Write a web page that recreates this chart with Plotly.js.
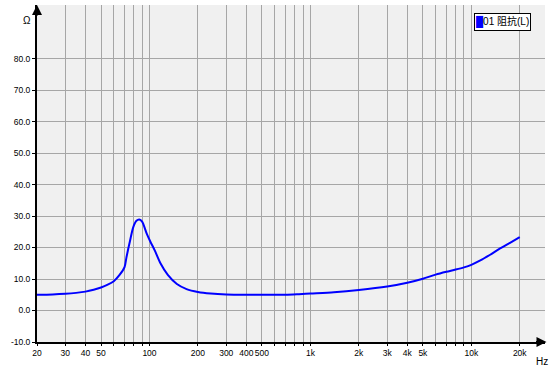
<!DOCTYPE html>
<html>
<head>
<meta charset="utf-8">
<script src="https://cdn.plot.ly/plotly-3.0.1.min.js"></script>
<style>html,body{margin:0;padding:0;background:#fff}#chart{width:554px;height:370px}</style>
</head>
<body>
<div id="chart"></div>
<script>
// Impedance curve (Hz, Ω)
var freqHz = [20, 25, 30, 35, 40, 45, 50, 55, 60, 65, 70, 72, 75.6, 79.3, 83, 86.5, 90, 96, 101, 108, 117, 130, 148, 170, 200, 240, 300, 400, 500, 700, 850, 1000, 1400, 2000, 3000, 4000, 5000, 6000, 7000, 8000, 9000, 10000, 11300, 13100, 15100, 17400, 20000];
var impedanceOhm = [5.0, 5.1, 5.3, 5.6, 6.0, 6.6, 7.3, 8.2, 9.3, 11.2, 13.8, 17.0, 22.0, 26.5, 28.5, 28.9, 28.2, 24.5, 22.0, 19.0, 15.0, 11.3, 8.4, 6.8, 5.9, 5.4, 5.1, 5.0, 5.0, 5.0, 5.2, 5.4, 5.8, 6.5, 7.6, 8.8, 10.1, 11.4, 12.3, 13.0, 13.7, 14.5, 15.8, 17.7, 19.7, 21.5, 23.3];
var seriesName = "01 阻抗(L)";

// Axis ticks
var xGridVals = [20, 30, 40, 50, 60, 70, 80, 90, 100, 200, 300, 400, 500, 600, 700, 800, 900, 1000, 2000, 3000, 4000, 5000, 6000, 7000, 8000, 9000, 10000, 20000];
var xGridText = ["20", "30", "40", "50", "", "", "", "", "100", "200", "300", "400", "500", "", "", "", "", "1k", "2k", "3k", "4k", "5k", "", "", "", "", "10k", "20k"];
var yTickVals = [-10, 0, 10, 20, 30, 40, 50, 60, 70, 80];
var yTickText = ["-10.0", "0.0", "10.0", "20.0", "30.0", "40.0", "50.0", "60.0", "70.0", "80.0"];

var font = {family: "Liberation Sans, Arial, 'Noto Sans CJK SC', sans-serif", size: 8.5, color: "#000"};

var trace = {
  x: freqHz, y: impedanceOhm, type: "scatter", mode: "lines",
  name: seriesName, showlegend: false,
  line: {color: "#0000ff", width: 2, shape: "spline", smoothing: 0.8},
  hoverinfo: "x+y"
};

var layout = {
  width: 554, height: 370,
  margin: {l: 37, r: 9, t: 5, b: 28, pad: 0},
  paper_bgcolor: "#ffffff", plot_bgcolor: "#f0f0f0",
  font: font,
  showlegend: false,
  xaxis: {
    type: "log", range: [Math.log10(20), 4.458],
    tickmode: "array", tickvals: xGridVals, ticktext: xGridText, tickangle: 0,
    showgrid: true, gridcolor: "#a6a6a6", gridwidth: 1,
    showline: true, linecolor: "#000", linewidth: 2,
    ticks: "outside", ticklen: 2, tickcolor: "#000",
    zeroline: false, tickfont: font, fixedrange: true
  },
  yaxis: {
    range: [-10, 97],
    tickmode: "array", tickvals: yTickVals, ticktext: yTickText,
    showgrid: true, gridcolor: "#a6a6a6", gridwidth: 1,
    showline: true, linecolor: "#000", linewidth: 2,
    ticks: "outside", ticklen: 3, tickcolor: "#000",
    zeroline: false, tickfont: font, fixedrange: true
  },
  annotations: [
    {xref: "paper", yref: "paper", x: 0, y: 1, ax: 0, ay: 12, text: "", showarrow: true, arrowhead: 2, arrowsize: 1, arrowwidth: 2, arrowcolor: "#000"},
    {xref: "paper", yref: "paper", x: 1.003, y: 0, ax: -12, ay: 0, text: "", showarrow: true, arrowhead: 2, arrowsize: 1, arrowwidth: 2, arrowcolor: "#000"},
    {xref: "paper", yref: "paper", x: -0.008, y: 0.955, xanchor: "right", yanchor: "middle", text: "Ω", showarrow: false, font: {family: font.family, size: 10, color: "#000"}},
    {xref: "paper", yref: "paper", x: 0.978, y: -0.035, xanchor: "left", yanchor: "top", text: "Hz", showarrow: false, font: {family: font.family, size: 10, color: "#000"}},
    {xref: "paper", yref: "paper", x: 0.86, y: 0.976, xanchor: "left", yanchor: "top",
     text: "<span style='color:#0000ff'>█</span>" + seriesName, showarrow: false,
     bgcolor: "#ffffff", bordercolor: "#000", borderwidth: 1, borderpad: 1,
     font: {family: "Liberation Sans, Arial, 'Noto Sans CJK SC', sans-serif", size: 10, color: "#000"}}
  ]
};

Plotly.newPlot("chart", [trace], layout, {displayModeBar: false, staticPlot: true});
</script>
</body>
</html>
